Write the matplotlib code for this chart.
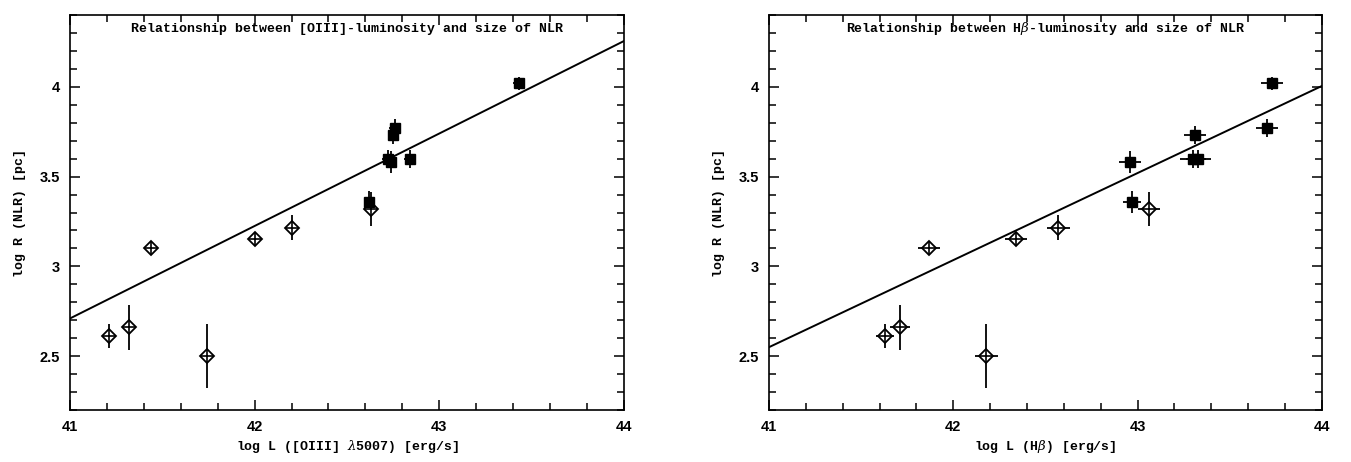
import matplotlib
matplotlib.use("Agg")
import numpy as np
import matplotlib.pyplot as plt
from matplotlib.ticker import MultipleLocator, FormatStrFormatter

# open diamonds (same objects in both panels)
open_y = [2.61, 2.66, 2.50, 3.10, 3.15, 3.215, 3.32]
open_yerr = [0.067, 0.125, 0.18, 0.0, 0.0, 0.07, 0.095]
oiii_open_x = [41.21, 41.32, 41.74, 41.44, 42.00, 42.20, 42.63]
hb_open_x = [41.63, 41.71, 42.18, 41.87, 42.34, 42.57, 43.06]
hb_open_xerr = [0.05, 0.055, 0.06, 0.06, 0.06, 0.063, 0.06]

# filled squares
fill_y = [4.02, 3.77, 3.73, 3.60, 3.58, 3.60, 3.36]
fill_yerr = [0.035, 0.05, 0.05, 0.05, 0.06, 0.05, 0.06]
oiii_fill_x = [43.43, 42.76, 42.75, 42.72, 42.74, 42.84, 42.62]
oiii_fill_xerr = [0.03, 0.03, 0.03, 0.03, 0.03, 0.03, 0.03]
hb_fill_x = [43.73, 43.70, 43.31, 43.33, 42.96, 43.30, 42.97]
hb_fill_xerr = [0.06, 0.06, 0.06, 0.07, 0.06, 0.07, 0.05]

# linear fits: (value at log L = 41, slope)
oiii_fit = (2.71, 0.515)
hb_fit = (2.55, 0.485)

titles = ["Relationship between [OIII]-luminosity and size of NLR",
          r"Relationship between H$\beta$-luminosity and size of NLR"]
xlabels = [r"log L ([OIII] $\lambda$5007) [erg/s]", r"log L (H$\beta$) [erg/s]"]
ylabel = "log R (NLR) [pc]"

LABEL_FONT = dict(family="Liberation Mono", fontweight="bold")


def draw_panel(ax, open_x, open_xerr, fill_x, fill_xerr, fit, title, xlabel):
    ax.errorbar(open_x, open_y, xerr=open_xerr, yerr=open_yerr, fmt='none',
                ecolor='black', elinewidth=1.3, capsize=0, zorder=2)
    ax.errorbar(fill_x, fill_y, xerr=fill_xerr, yerr=fill_yerr, fmt='none',
                ecolor='black', elinewidth=1.3, capsize=0, zorder=2)
    ax.plot(open_x, open_y, 'D', ms=7.5, mfc='white', mec='black', mew=1.3, zorder=3)
    ax.plot(open_x, open_y, '+', ms=10, color='black', mew=1.2, zorder=4)
    ax.plot(fill_x, fill_y, 's', ms=6.5, color='black', zorder=3)

    xx = np.array([41.0, 44.0])
    ax.plot(xx, fit[0] + fit[1] * (xx - 41.0), color='black', lw=1.4, zorder=1)

    ax.set_xlim(41, 44)
    ax.set_ylim(2.2, 4.4)
    ax.xaxis.set_major_locator(MultipleLocator(1))
    ax.xaxis.set_minor_locator(MultipleLocator(0.2))
    ax.yaxis.set_major_locator(MultipleLocator(0.5))
    ax.yaxis.set_minor_locator(MultipleLocator(0.1))
    ax.xaxis.set_major_formatter(FormatStrFormatter('%g'))
    ax.yaxis.set_major_formatter(FormatStrFormatter('%g'))
    ax.tick_params(which='both', direction='in', top=True, right=True, width=1.1)
    ax.tick_params(which='major', length=7, pad=7, labelsize=10.5)
    ax.tick_params(which='minor', length=5)
    for lab in ax.get_xticklabels() + ax.get_yticklabels():
        lab.set_fontweight('bold')
        lab.set_family('Liberation Sans')
    for sp in ax.spines.values():
        sp.set_linewidth(1.2)

    ax.text(0.5, 0.965, title, transform=ax.transAxes, ha='center', va='center',
            fontsize=9.5, **LABEL_FONT)
    ax.set_xlabel(xlabel, fontsize=9.5, labelpad=3, **LABEL_FONT)
    ax.set_ylabel(ylabel, fontsize=9.5, labelpad=10, **LABEL_FONT)


plt.rcParams['mathtext.fontset'] = 'dejavuserif'

fig = plt.figure(figsize=(13.51, 4.62), dpi=100)
ax1 = fig.add_axes([0.0518, 0.1125, 0.410, 0.855])
ax2 = fig.add_axes([0.5692, 0.1125, 0.4093, 0.855])

draw_panel(ax1, oiii_open_x, None, oiii_fill_x, oiii_fill_xerr, oiii_fit,
           titles[0], xlabels[0])
draw_panel(ax2, hb_open_x, hb_open_xerr, hb_fill_x, hb_fill_xerr, hb_fit,
           titles[1], xlabels[1])

fig.savefig("out.png", dpi=100)
